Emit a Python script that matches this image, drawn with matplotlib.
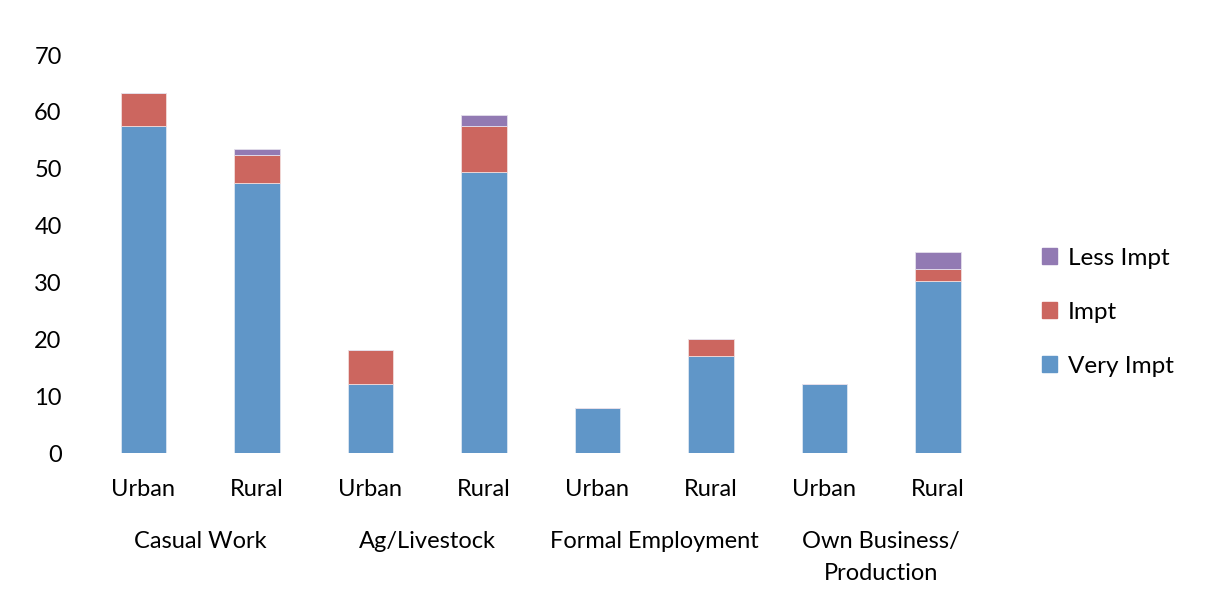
import matplotlib
matplotlib.use("Agg")
import matplotlib.pyplot as plt
import matplotlib.transforms as mtransforms
from matplotlib.patches import Patch
import numpy as np

plt.rcParams['font.family'] = ['Lato', 'DejaVu Sans']

# data
groups = ["Casual Work", "Ag/Livestock", "Formal Employment", "Own Business/\nProduction"]
areas = ["Urban", "Rural"] * 4
very_impt = [57.5, 47.5, 12.1, 49.5, 8.0, 17.1, 12.1, 30.2]
impt = [5.9, 5.0, 6.1, 8.0, 0, 2.9, 0, 2.1]
less_impt = [0, 1.0, 0, 2.0, 0, 0, 0, 3.0]

c_very = "#6096c8"
c_impt = "#cc665f"
c_less = "#927ab3"

fig = plt.figure(figsize=(12.06, 5.99), dpi=100, facecolor='w')
ax = fig.add_axes([0.0719, 0.2437, 0.7529, 0.6644])

x = np.arange(len(areas))
w = 0.4
b1 = np.array(very_impt)
b2 = b1 + np.array(impt)
ax.bar(x, very_impt, w, color=c_very, edgecolor='#dce6f2', linewidth=0.6, label='Very Impt')
ax.bar(x, impt, w, bottom=b1, color=c_impt, edgecolor='#f2dcdb', linewidth=0.6, label='Impt')
ax.bar(x, less_impt, w, bottom=b2, color=c_less, edgecolor='#e4dfec', linewidth=0.6, label='Less Impt')

ax.set_xlim(-0.5, len(areas) - 0.5)
ax.set_ylim(0, 70)
ax.set_yticks(range(0, 71, 10))
ax.set_xticks(x)
ax.set_xticklabels(areas)
ax.tick_params(axis='both', length=0, labelsize=17)
ax.tick_params(axis='y', pad=18)
ax.tick_params(axis='x', pad=19)
for s in ax.spines.values():
    s.set_visible(False)

# group labels under each pair
trans = mtransforms.blended_transform_factory(ax.transData, ax.transAxes)
for i, g in enumerate(groups):
    ax.text(2 * i + 0.5, -0.197, g, transform=trans, ha='center', va='top',
            fontsize=17, linespacing=1.65)

handles = [Patch(color=c_less, label='Less Impt'),
           Patch(color=c_impt, label='Impt'),
           Patch(color=c_very, label='Very Impt')]
fig.legend(handles=handles, loc='center left', bbox_to_anchor=(0.846, 0.479),
           frameon=False, fontsize=17.5, handlelength=0.6, handleheight=0.6,
           handletextpad=0.45, labelspacing=1.36)

fig.savefig("out.png", dpi=100)
